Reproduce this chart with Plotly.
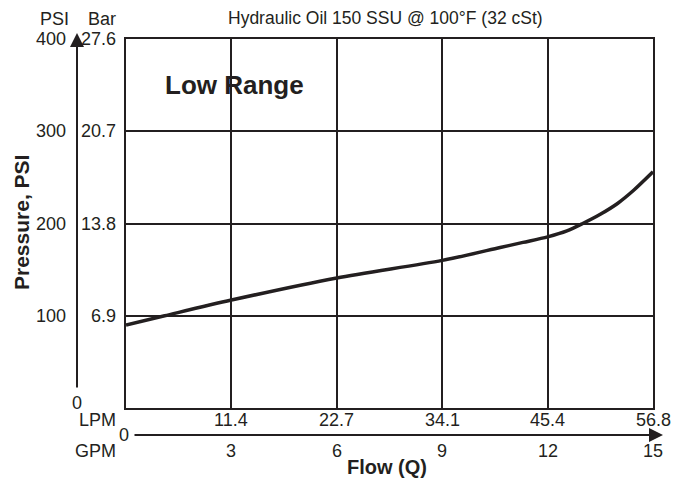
import plotly.graph_objects as go

# ---- data ----
gpm = [0, 1.1, 3, 6, 9, 10.65, 11.3, 12, 12.55, 13, 13.5, 14, 14.45, 15]
psi = [90, 100, 117, 141, 160, 174, 179.5, 185.5, 192, 200, 210, 222, 236, 256]

gpm_ticks = [3, 6, 9, 12, 15]
lpm_labels = ["11.4", "22.7", "34.1", "45.4", "56.8"]
psi_ticks = [100, 200, 300, 400]
bar_labels = ["6.9", "13.8", "20.7", "27.6"]

title_text = "Hydraulic Oil 150 SSU @ 100°F (32 cSt)"

INK = "#231f20"
FONT = "Liberation Sans, Arial, Helvetica, sans-serif"

# page has an 8px body margin; compensate so the picture lands at target pixels
OFF = 8
W, H = 685 - OFF, 479 - OFF
PL, PR, PT, PB = 126, 653, 39, 408          # plot box in page pixels
L, T = PL - OFF, PT - OFF
R = W - (PR - OFF)
B = H - (PB - OFF)
PW, PH = PR - PL, PB - PT


def px_x(p):
    return (p - PL) / PW


def px_y(p):
    return (PB - p) / PH


fig = go.Figure()
fig.add_trace(go.Scatter(
    x=gpm, y=psi, mode="lines",
    line=dict(color=INK, width=3.5, shape="spline", smoothing=0.8),
    hoverinfo="skip", showlegend=False,
))

ann = []
tick_font = dict(family=FONT, size=18, color=INK)

# PSI ticks
for v in psi_ticks:
    ann.append(dict(x=px_x(68), xref="paper", y=v, yref="y", text=str(v),
                    showarrow=False, xanchor="right", yanchor="middle", font=tick_font))
ann.append(dict(x=px_x(77), xref="paper", y=px_y(403), yref="paper", text="0",
                showarrow=False, xanchor="center", yanchor="middle", font=tick_font))
# Bar ticks
for v, t in zip(psi_ticks, bar_labels):
    ann.append(dict(x=px_x(118), xref="paper", y=v, yref="y", text=t,
                    showarrow=False, xanchor="right", yanchor="middle", font=tick_font))
# header labels
ann.append(dict(x=px_x(54), xref="paper", y=px_y(19), yref="paper", text="PSI",
                showarrow=False, xanchor="center", yanchor="middle", font=tick_font))
ann.append(dict(x=px_x(102), xref="paper", y=px_y(19), yref="paper", text="Bar",
                showarrow=False, xanchor="center", yanchor="middle", font=tick_font))
ann.append(dict(x=px_x(385), xref="paper", y=px_y(18), yref="paper", text=title_text,
                showarrow=False, xanchor="center", yanchor="middle",
                font=dict(family=FONT, size=17.5, color=INK)))
# LPM / GPM ticks
for g, t in zip(gpm_ticks, lpm_labels):
    ann.append(dict(x=g, xref="x", y=px_y(420), yref="paper", text=t,
                    showarrow=False, xanchor="center", yanchor="middle", font=tick_font))
    ann.append(dict(x=g, xref="x", y=px_y(451), yref="paper", text=str(g),
                    showarrow=False, xanchor="center", yanchor="middle", font=tick_font))
ann.append(dict(x=px_x(118), xref="paper", y=px_y(420), yref="paper", text="LPM",
                showarrow=False, xanchor="right", yanchor="middle", font=tick_font))
ann.append(dict(x=px_x(118), xref="paper", y=px_y(451), yref="paper", text="GPM",
                showarrow=False, xanchor="right", yanchor="middle", font=tick_font))
ann.append(dict(x=px_x(124), xref="paper", y=px_y(435), yref="paper", text="0",
                showarrow=False, xanchor="center", yanchor="middle", font=tick_font))
# axis titles
ann.append(dict(x=px_x(387), xref="paper", y=px_y(467), yref="paper", text="<b>Flow (Q)</b>",
                showarrow=False, xanchor="center", yanchor="middle",
                font=dict(family=FONT, size=20, color=INK)))
ann.append(dict(x=px_x(21), xref="paper", y=px_y(223), yref="paper", text="<b>Pressure, PSI</b>",
                showarrow=False, xanchor="center", yanchor="middle", textangle=-90,
                font=dict(family=FONT, size=21, color=INK)))
ann.append(dict(x=px_x(234), xref="paper", y=px_y(85), yref="paper", text="<b>Low Range</b>",
                showarrow=False, xanchor="center", yanchor="middle",
                font=dict(family=FONT, size=26, color=INK)))
# arrows
ann.append(dict(x=px_x(77), xref="paper", y=px_y(33), yref="paper", text="",
                showarrow=True, ax=0, ay=356, arrowhead=2, arrowsize=1.4,
                arrowwidth=2, arrowcolor=INK, standoff=0))
ann.append(dict(x=px_x(663), xref="paper", y=px_y(435), yref="paper", text="",
                showarrow=True, ax=-530, ay=0, arrowhead=2, arrowsize=1.4,
                arrowwidth=2, arrowcolor=INK, standoff=0))

axis_common = dict(showline=True, linecolor=INK, linewidth=2, mirror=True,
                   showgrid=True, gridcolor=INK, gridwidth=2, zeroline=False,
                   showticklabels=False, ticks="", fixedrange=True)

fig.update_layout(
    width=W, height=H,
    margin=dict(l=L, r=R, t=T, b=B, pad=0),
    paper_bgcolor="white", plot_bgcolor="white",
    xaxis=dict(range=[0, 15], dtick=3, tick0=0, **axis_common),
    yaxis=dict(range=[0, 400], dtick=100, tick0=0, **axis_common),
    annotations=ann,
    showlegend=False,
)

fig.write_html("out.html")
